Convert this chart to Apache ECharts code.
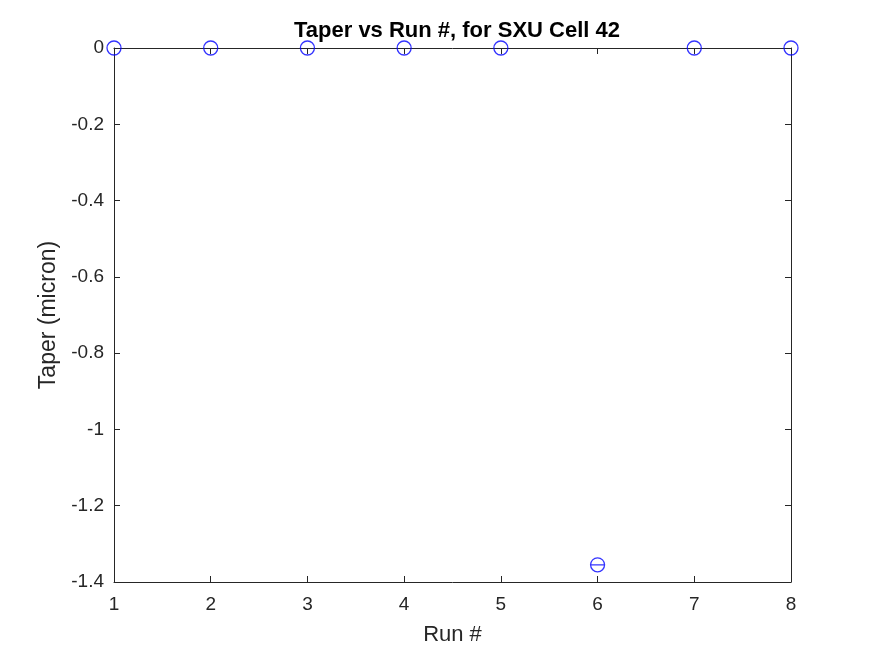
<!DOCTYPE html>
<html>
<head>
<meta charset="utf-8">
<script src="https://cdn.jsdelivr.net/npm/echarts@6/dist/echarts.min.js"></script>
<style>
  html, body { margin: 0; padding: 0; background: #fff; }
  #main { width: 875px; height: 656px; }
</style>
</head>
<body>
<div id="main"></div>
<script>
var runs = [1, 2, 3, 4, 5, 6, 7, 8];
var taper = [0, 0, 0, 0, 0, -1.355, 0, 0];
var xTicks = [1, 2, 3, 4, 5, 6, 7, 8];
var yTicks = [0, -0.2, -0.4, -0.6, -0.8, -1, -1.2, -1.4];

var myChart = echarts.init(document.getElementById("main"));
var font = "Liberation Sans, Arial, Helvetica, sans-serif";
var axisLine = { show: true, onZero: false, lineStyle: { color: "#262626", width: 1 } };
var tick = { show: true, inside: true, length: 6, lineStyle: { color: "#262626" } };

var option = {
  animation: false,
  title: {
    text: "Taper vs Run #, for SXU Cell 42",
    left: 452,
    top: 15,
    textAlign: "center",
    textStyle: { fontFamily: font, fontSize: 22, fontWeight: "bold", color: "#000" }
  },
  grid: { left: 114, right: 84, top: 48, bottom: 74 },
  xAxis: [
    {
      type: "value", min: 1, max: 8, interval: 1, position: "bottom",
      name: "Run #", nameLocation: "middle", nameGap: 42,
      nameTextStyle: { fontFamily: font, fontSize: 22, color: "#262626" },
      axisLine: axisLine, axisTick: tick, splitLine: { show: false },
      axisLabel: { fontFamily: font, fontSize: 19, color: "#262626", margin: 13 }
    },
    {
      type: "value", min: 1, max: 8, interval: 1, position: "top",
      axisLine: axisLine, axisTick: tick, splitLine: { show: false },
      axisLabel: { show: false }
    }
  ],
  yAxis: [
    {
      type: "value", min: -1.4, max: 0, interval: 0.2, position: "left",
      name: "Taper (micron)", nameLocation: "middle", nameGap: 46,
      nameTextStyle: { fontFamily: font, fontSize: 23, color: "#262626" },
      axisLine: axisLine, axisTick: tick, splitLine: { show: false },
      axisLabel: {
        fontFamily: font, fontSize: 19, color: "#262626", margin: 10,
        formatter: function (v) { return String(Math.round(v * 10) / 10); }
      }
    },
    {
      type: "value", min: -1.4, max: 0, interval: 0.2, position: "right",
      axisLine: axisLine, axisTick: tick, splitLine: { show: false },
      axisLabel: { show: false }
    }
  ],
  series: [
    {
      type: "scatter",
      clip: false,
      symbol: "circle",
      symbolSize: 14,
      itemStyle: { color: "transparent", borderColor: "#0000ff", borderWidth: 1.3 },
      data: runs.map(function (r, i) {
        var d = { value: [r, taper[i]] };
        if (taper[i] < -1) {
          d.symbol = "path://M0,50A50,50 0 1,1 100,50A50,50 0 1,1 0,50ZM0,50L100,50";
        }
        return d;
      })
    }
  ]
};
myChart.setOption(option);
</script>
</body>
</html>
